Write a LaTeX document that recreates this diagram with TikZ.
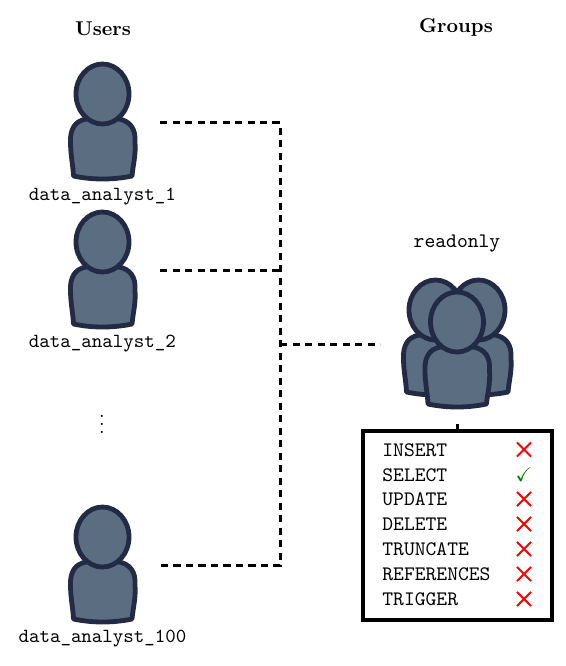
\documentclass[tikz,border=0pt]{standalone}
\usepackage{amssymb}
\usetikzlibrary{shapes.misc}
\definecolor{pfill}{HTML}{5B6D80}
\definecolor{pline}{HTML}{222B45}
\definecolor{chk}{HTML}{008000}
\tikzset{
  x=0.5pt,y=-0.5pt,
  personline/.style={draw=pline,fill=pfill,line width=2.4pt,line join=round},
  conn/.style={draw=black,line width=1.5pt,dash pattern=on 3.6pt off 2.65pt},
  lab/.style={font=\ttfamily,inner sep=0pt,anchor=base},
  perm/.style={font=\ttfamily\fontsize{10.3}{12}\selectfont,inner sep=0pt,anchor=base west},
  nomark/.style={cross out,draw=red,line width=0.9pt,minimum size=6.2pt,inner sep=0pt},
  yesmark/.style={text=chk,inner sep=0pt},
  head/.style={font=\bfseries,inner sep=0pt,anchor=base},
  person/.pic={
    \path[personline] (86,119) .. controls (75,121) and (70,129) .. (70.5,142)
      .. controls (70.5,155) and (73,165) .. (73.5,176)
      .. controls (92,180) and (113,180) .. (132,176)
      .. controls (133,165) and (136,155) .. (135,142)
      .. controls (136,129) and (130,121) .. (119,119) -- cycle;
    \path[personline] (102.5,94) ellipse [x radius=26.5,y radius=30];
  }
}
\begin{document}
\begin{tikzpicture}
\useasboundingbox (0,0) rectangle (566,666);
\node[head] (users) at (103,35) {Users};
\node[head] (groups) at (456,32) {Groups};
\pic at (0,0) {person};
\pic at (0,148) {person};
\pic at (0,443) {person};
\node[lab] (u1) at (102.5,200) {data\_analyst\_1};
\node[lab] (u2) at (102.5,347) {data\_analyst\_2};
\node[lab] (u3) at (102.5,642) {data\_analyst\_100};
\node[inner sep=0pt] (dots) at (102,418) {$\vdots$};
\node[lab,font=\ttfamily\fontsize{10.3}{12}\selectfont] (ro) at (457,247) {readonly};
\pic at (333,216) {person};
\pic at (376,216) {person};
\pic at (354.5,228) {person};
\coordinate (a1) at (160,122.5);
\coordinate (a2) at (160,270);
\coordinate (a3) at (160,565.5);
\coordinate (tr) at (280,122.5);
\coordinate (mid) at (280,270);
\coordinate (br) at (280,565.5);
\coordinate (jn) at (280,344);
\coordinate (gp) at (380,344);
\draw[conn] (a1) -- (tr) -- (br) -- (a3);
\draw[conn] (a2) -- (mid);
\draw[conn] (jn) -- (gp);
\node[draw=black,line width=2pt,minimum width=94.5pt,minimum height=94.5pt,inner sep=0pt,outer sep=0pt] (box) at (457.2,525.5) {};
\coordinate (gb) at (457.2,424);
\draw[line width=1.5pt] (gb) -- (box.north);
\node[perm] (p1) at (382,456) {INSERT};
\node[perm] (p2) at (382,481) {SELECT};
\node[perm] (p3) at (382,505) {UPDATE};
\node[perm] (p4) at (382,530) {DELETE};
\node[perm] (p5) at (382,555) {TRUNCATE};
\node[perm] (p6) at (382,580) {REFERENCES};
\node[perm] (p7) at (382,605) {TRIGGER};
\node[nomark] (m1) at (524,449.5) {};
\node[yesmark] (m2) at (524,474.5) {$\checkmark$};
\node[nomark] (m3) at (524,499) {};
\node[nomark] (m4) at (524,524) {};
\node[nomark] (m5) at (524,549) {};
\node[nomark] (m6) at (524,574) {};
\node[nomark] (m7) at (524,599) {};
\end{tikzpicture}
\end{document}
